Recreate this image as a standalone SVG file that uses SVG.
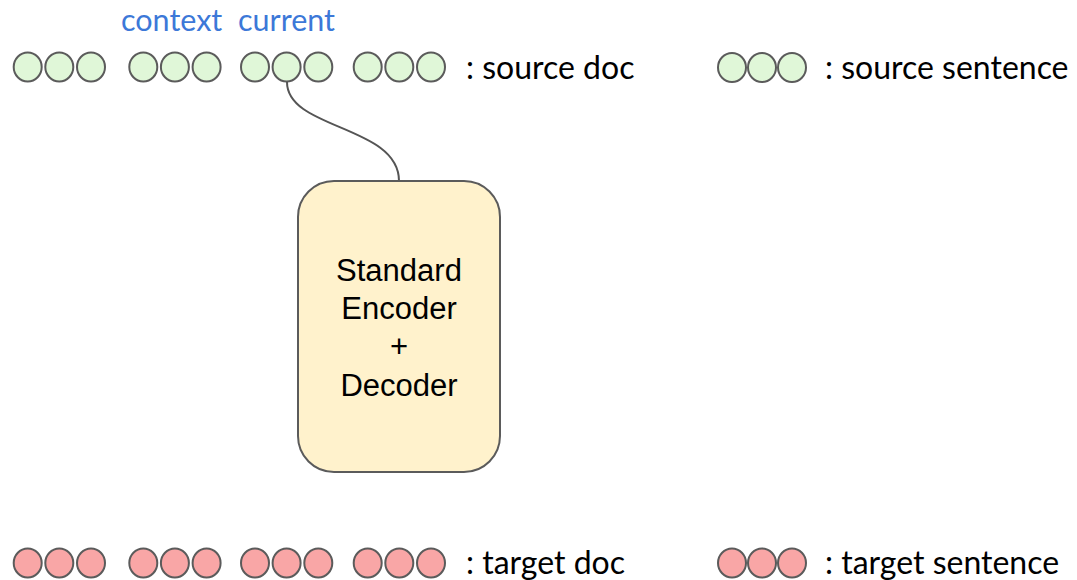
<svg xmlns="http://www.w3.org/2000/svg" width="1077" height="580" viewBox="0 0 1077 580">
  <defs>
    <style>
      .src { fill: #e0f7d8; stroke: #5b5b5b; stroke-width: 2; }
      .tgt { fill: #f9a6a6; stroke: #5b5b5b; stroke-width: 2; }
      .lbl { font-family: Lato, "Open Sans", "Liberation Sans", sans-serif; font-size: 32px; fill: #000000; }
      .tag { font-family: Lato, "Open Sans", "Liberation Sans", sans-serif; font-size: 30.5px; fill: #3c78d8; }
      .box { fill: #fff2cc; stroke: #5b5b5b; stroke-width: 2; }
      .boxtxt { font-family: "Liberation Sans", Arial, sans-serif; font-size: 31px; fill: #000000; text-anchor: middle; }
      .wire { fill: none; stroke: #555555; stroke-width: 2; }
    </style>
    <!-- a triple of token circles -->
    <g id="tri-src">
      <ellipse class="src" cx="0" cy="0" rx="14" ry="14.5"/>
      <ellipse class="src" cx="31.6" cy="0" rx="14" ry="14.5"/>
      <ellipse class="src" cx="63.3" cy="0" rx="14" ry="14.5"/>
    </g>
    <g id="tri-tgt">
      <ellipse class="tgt" cx="0" cy="0" rx="14" ry="14.5"/>
      <ellipse class="tgt" cx="31.6" cy="0" rx="14" ry="14.5"/>
      <ellipse class="tgt" cx="63.3" cy="0" rx="14" ry="14.5"/>
    </g>
  </defs>
  <rect width="1077" height="580" fill="#ffffff"/>

  <!-- sentence labels above the source document -->
  <g id="tags">
    <text class="tag" x="121" y="31">context</text>
    <text class="tag" x="238" y="31">current</text>
  </g>

  <!-- source document: four sentences -->
  <g id="source-doc">
    <use href="#tri-src" x="27.7" y="67"/>
    <use href="#tri-src" x="143.3" y="67"/>
    <use href="#tri-src" x="255" y="67"/>
    <use href="#tri-src" x="367.7" y="67"/>
    <text class="lbl" x="466" y="79">: source doc</text>
  </g>

  <g id="source-sentence">
    <ellipse class="src" cx="732" cy="67.5" rx="14" ry="14.5"/>
    <ellipse class="src" cx="762" cy="67.5" rx="14" ry="14.5"/>
    <ellipse class="src" cx="792" cy="67.5" rx="14" ry="14.5"/>
    <text class="lbl" x="825" y="79">: source sentence</text>
  </g>

  <!-- connectors -->
  <g id="connectors">
    <path class="wire" d="M287,82 C287,130 399,125 399,181"/>
  </g>

  <!-- model -->
  <g id="model">
    <rect class="box" x="298" y="181" width="202" height="291" rx="36" ry="36"/>
    <text class="boxtxt" x="399" y="281">Standard</text>
    <text class="boxtxt" x="399" y="319">Encoder</text>
    <text class="boxtxt" x="399" y="357">+</text>
    <text class="boxtxt" x="399" y="396">Decoder</text>
  </g>

  <!-- target document: four sentences -->
  <g id="target-doc">
    <use href="#tri-tgt" x="27.7" y="563"/>
    <use href="#tri-tgt" x="143.3" y="563"/>
    <use href="#tri-tgt" x="255" y="563"/>
    <use href="#tri-tgt" x="367.7" y="563"/>
    <text class="lbl" x="466" y="574">: target doc</text>
  </g>

  <g id="target-sentence">
    <ellipse class="tgt" cx="732" cy="563" rx="14" ry="14.5"/>
    <ellipse class="tgt" cx="762" cy="563" rx="14" ry="14.5"/>
    <ellipse class="tgt" cx="792" cy="563" rx="14" ry="14.5"/>
    <text class="lbl" x="825" y="574">: target sentence</text>
  </g>
</svg>
